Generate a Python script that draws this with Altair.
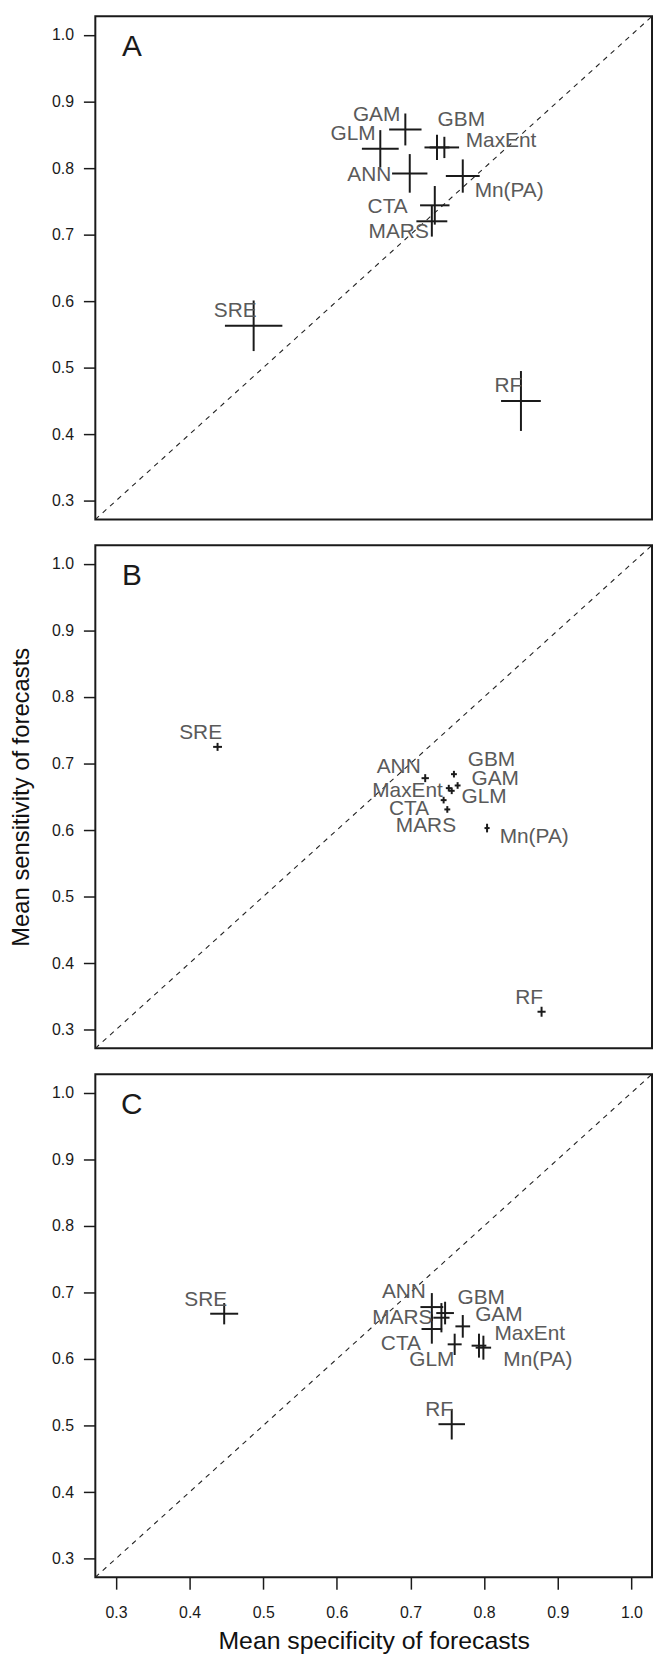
import altair as alt
import pandas as pd

# ---------------- data ----------------
models = ["SRE", "RF", "GAM", "GLM", "GBM", "MaxEnt", "ANN", "Mn(PA)", "CTA", "MARS"]
ticks = [0.3, 0.4, 0.5, 0.6, 0.7, 0.8, 0.9, 1.0]
domain = [0.272, 1.028]

# Panel A
spec_A = [0.487, 0.850, 0.693, 0.659, 0.736, 0.746, 0.699, 0.771, 0.733, 0.729]
sens_A = [0.563, 0.450, 0.858, 0.829, 0.831, 0.831, 0.792, 0.788, 0.744, 0.720]
spec_err_A = [0.039, 0.027, 0.022, 0.025, 0.017, 0.020, 0.024, 0.023, 0.020, 0.021]
sens_err_A = [0.038, 0.045, 0.024, 0.028, 0.019, 0.016, 0.029, 0.025, 0.029, 0.023]
lab_x_A = [0.462, 0.833, 0.654, 0.622, 0.769, 0.823, 0.644, 0.834, 0.669, 0.684]
lab_y_A = [0.585, 0.472, 0.879, 0.851, 0.872, 0.841, 0.789, 0.765, 0.741, 0.704]

# Panel B
spec_B = [0.438, 0.878, 0.764, 0.756, 0.759, 0.752, 0.720, 0.804, 0.745, 0.750]
sens_B = [0.725, 0.327, 0.667, 0.659, 0.684, 0.663, 0.678, 0.603, 0.645, 0.631]
spec_err_B = [0.006, 0.0055, 0.004, 0.004, 0.004, 0.004, 0.005, 0.0035, 0.004, 0.004]
sens_err_B = [0.006, 0.0075, 0.005, 0.005, 0.005, 0.005, 0.006, 0.0065, 0.005, 0.005]
lab_x_B = [0.415, 0.861, 0.815, 0.800, 0.810, 0.696, 0.684, 0.868, 0.698, 0.721]
lab_y_B = [0.746, 0.347, 0.676, 0.650, 0.705, 0.658, 0.695, 0.589, 0.632, 0.606]

# Panel C
spec_C = [0.447, 0.756, 0.771, 0.760, 0.747, 0.793, 0.729, 0.799, 0.729, 0.742]
sens_C = [0.668, 0.502, 0.649, 0.622, 0.669, 0.620, 0.678, 0.617, 0.645, 0.662]
spec_err_C = [0.019, 0.018, 0.010, 0.0095, 0.012, 0.010, 0.0155, 0.0105, 0.014, 0.011]
sens_err_C = [0.016, 0.023, 0.017, 0.016, 0.017, 0.018, 0.021, 0.018, 0.022, 0.022]
lab_x_C = [0.422, 0.739, 0.820, 0.729, 0.796, 0.862, 0.691, 0.873, 0.687, 0.689]
lab_y_C = [0.689, 0.524, 0.666, 0.599, 0.691, 0.637, 0.701, 0.599, 0.623, 0.661]

panel_letters = ["A", "B", "C"]
letter_x = [0.3216]
letter_y = [0.982]
diag_vals = [0.272, 1.028]

x_title = "Mean specificity of forecasts"
y_title = "Mean sensitivity of forecasts"

FONT = "Liberation Sans"
W, H = 561, 507


def panel(letter, spec, sens, spec_err, sens_err, lx, ly, show_x, show_ytitle):
    df = pd.DataFrame({
        "model": models, "spec": spec, "sens": sens,
        "xlo": [s - e for s, e in zip(spec, spec_err)],
        "xhi": [s + e for s, e in zip(spec, spec_err)],
        "ylo": [s - e for s, e in zip(sens, sens_err)],
        "yhi": [s + e for s, e in zip(sens, sens_err)],
        "lx": lx, "ly": ly,
    })
    diag_df = pd.DataFrame({"x": [diag_vals[0]], "y": [diag_vals[0]],
                            "x2": [diag_vals[1]], "y2": [diag_vals[1]]})
    let_df = pd.DataFrame({"x": letter_x, "y": letter_y, "t": [letter]})

    xs = alt.Scale(domain=domain, nice=False, zero=False)
    ys = alt.Scale(domain=domain, nice=False, zero=False)
    if show_x:
        xax = alt.Axis(values=ticks, format=".1f", title=x_title)
    else:
        xax = None
    yax = alt.Axis(values=ticks, format=".1f", title=y_title if show_ytitle else " ")

    def X(f):
        return alt.X(f, type="quantitative", scale=xs, axis=xax)

    def Y(f):
        return alt.Y(f, type="quantitative", scale=ys, axis=yax)

    diag = alt.Chart(diag_df).mark_rule(
        color="#222", strokeWidth=1.1, strokeDash=[5, 5]
    ).encode(x=X("x"), y=Y("y"), x2="x2", y2="y2")

    hbar = alt.Chart(df).mark_rule(color="#1a1a1a", strokeWidth=2).encode(
        x=X("xlo"), x2="xhi", y=Y("sens"))
    vbar = alt.Chart(df).mark_rule(color="#1a1a1a", strokeWidth=2).encode(
        x=X("spec"), y=Y("ylo"), y2="yhi")
    labels = alt.Chart(df).mark_text(
        font=FONT, fontSize=21, color="#5a5a5a", align="center", baseline="middle"
    ).encode(x=X("lx"), y=Y("ly"), text="model:N")
    let = alt.Chart(let_df).mark_text(
        font=FONT, fontSize=30, color="#1a1a1a", align="center", baseline="middle"
    ).encode(x=X("x"), y=Y("y"), text="t:N")

    return alt.layer(diag, hbar, vbar, labels, let).properties(width=W, height=H)


pA = panel("A", spec_A, sens_A, spec_err_A, sens_err_A, lab_x_A, lab_y_A, False, False)
pB = panel("B", spec_B, sens_B, spec_err_B, sens_err_B, lab_x_B, lab_y_B, False, True)
pC = panel("C", spec_C, sens_C, spec_err_C, sens_err_C, lab_x_C, lab_y_C, True, False)

chart = alt.vconcat(pA, pB, pC, spacing=22).properties(
    padding=0
).configure_view(
    stroke="#1a1a1a", strokeWidth=2
).configure_axis(
    domain=False, grid=False,
    tickColor="#1a1a1a", tickWidth=1.5, tickSize=12,
    labelFont=FONT, labelFontSize=16, labelColor="#1a1a1a", labelPadding=10,
    titleFont=FONT, titleFontSize=24, titleFontWeight="normal", titleColor="#111",
).configure_axisY(
    titlePadding=18
).configure_axisX(
    labelPadding=16, titlePadding=8, labelFontSize=16, titleFontSize=25
)

chart.save("out.html", embed_options={"renderer": "svg", "actions": False})
